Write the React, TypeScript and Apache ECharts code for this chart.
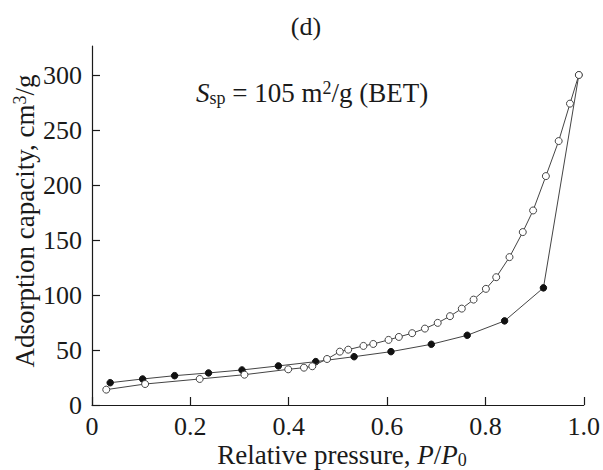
import React, { useEffect, useRef } from "react";
import * as echarts from "echarts";

const adsP = [0.029, 0.108, 0.219, 0.31, 0.399, 0.431, 0.448, 0.478, 0.504, 0.521, 0.552, 0.572, 0.603, 0.624, 0.651, 0.677, 0.703, 0.728, 0.752, 0.776, 0.801, 0.822, 0.849, 0.876, 0.897, 0.923, 0.949, 0.972, 0.99];
const adsV = [14, 19.1, 23.7, 27.6, 32.5, 34, 35.3, 41.9, 48.6, 50.4, 53.8, 55.6, 59.3, 62, 65.4, 69.6, 74.8, 80.9, 87.8, 96, 105.8, 116.4, 134.7, 157.5, 177.2, 208.5, 240.4, 274.5, 300.6];
const desP = [0.99, 0.918, 0.839, 0.763, 0.69, 0.608, 0.533, 0.455, 0.379, 0.305, 0.237, 0.168, 0.103, 0.037];
const desV = [300.6, 106.7, 76.6, 63.5, 55.3, 48.6, 44, 39.5, 35.6, 31.9, 29.2, 26.7, 23.7, 20.3];
const xTicks = [0, 0.2, 0.4, 0.6, 0.8, 1.0];
const yTicks = [0, 50, 100, 150, 200, 250, 300];

const FONT = "Liberation Serif";
const INK = "#1a1a1a";
const LINE = "#444";

const rich = {
  n: { fontFamily: FONT, fontSize: 27, lineHeight: 28, fill: INK, color: INK },
  i: { fontFamily: FONT, fontSize: 27, lineHeight: 28, fontStyle: "italic", fill: INK, color: INK },
  sub: { fontFamily: FONT, fontSize: 18, lineHeight: 12, verticalAlign: "bottom", fill: INK, color: INK },
  sup: { fontFamily: FONT, fontSize: 18, lineHeight: 12, verticalAlign: "top", fill: INK, color: INK },
};

export default function App() {
  const ref = useRef<HTMLDivElement>(null);
  useEffect(() => {
    if (!ref.current) return;
    const chart = echarts.init(ref.current, null, { renderer: "svg" });
    chart.setOption({
      animation: false,
      grid: { left: 92, right: 17, top: 46, bottom: 65, containLabel: false },
      xAxis: {
        type: "value",
        min: 0,
        max: 1,
        interval: 0.2,
        axisLine: { lineStyle: { color: INK, width: 1.2 } },
        axisTick: { inside: true, length: 8, lineStyle: { color: INK, width: 1.2 }, customValues: xTicks },
        axisLabel: {
          customValues: xTicks,
          margin: 10,
          fontFamily: FONT,
          fontSize: 26,
          lineHeight: 22,
          color: INK,
          formatter: (v: number) => (v === 0 ? "0" : v.toFixed(1)),
        },
        splitLine: { show: false },
      },
      yAxis: {
        type: "value",
        min: 0,
        max: 327,
        axisLine: { show: true, lineStyle: { color: INK, width: 1.2 } },
        axisTick: { show: true, inside: true, length: 8, lineStyle: { color: INK, width: 1.2 }, customValues: yTicks },
        axisLabel: { customValues: yTicks, margin: 10, fontFamily: FONT, fontSize: 26, lineHeight: 22, color: INK },
        splitLine: { show: false },
      },
      graphic: [
        {
          type: "text",
          x: 306,
          y: 26,
          style: { text: "(d)", font: `26px "${FONT}"`, fill: INK, align: "center", verticalAlign: "middle" },
        },
        {
          type: "text",
          x: 196,
          y: 93,
          style: {
            text: "{i|S}{sub|sp}{n| = 105 m}{sup|2}{n|/g (BET)}",
            rich,
            align: "left",
            verticalAlign: "middle",
          },
        },
        {
          type: "text",
          x: 342,
          y: 455,
          style: {
            text: "{n|Relative pressure, }{i|P}{n|/}{i|P}{sub|0}",
            rich,
            align: "center",
            verticalAlign: "middle",
          },
        },
        {
          type: "text",
          x: 25,
          y: 221,
          rotation: Math.PI / 2,
          style: {
            text: "{n|Adsorption capacity, cm}{sup|3}{n|/g}",
            rich,
            align: "center",
            verticalAlign: "middle",
          },
        },
      ],
      series: [
        {
          type: "line",
          name: "adsorption",
          data: adsP.map((p, k) => [p, adsV[k]]),
          symbol: "circle",
          symbolSize: 7,
          showAllSymbol: true,
          lineStyle: { color: LINE, width: 1 },
          itemStyle: { color: "#fff", borderColor: LINE, borderWidth: 1 },
          z: 3,
        },
        {
          type: "line",
          name: "desorption",
          data: desP.map((p, k) => [p, desV[k]]),
          symbol: "circle",
          symbolSize: 6.5,
          showAllSymbol: true,
          lineStyle: { color: LINE, width: 1 },
          itemStyle: { color: "#111", borderColor: "#111", borderWidth: 1 },
          z: 2,
        },
      ],
    });
    return () => chart.dispose();
  }, []);
  return <div ref={ref} style={{ position: "absolute", left: 0, top: 0, width: 603, height: 470 }} />;
}
